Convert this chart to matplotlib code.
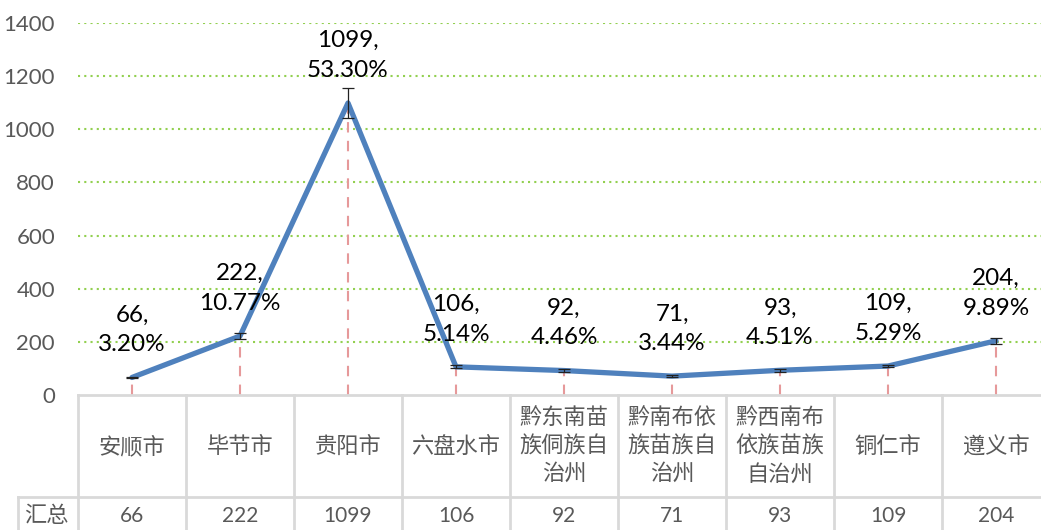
import matplotlib.pyplot as plt
from matplotlib.transforms import blended_transform_factory

plt.rcParams['font.family'] = ['Lato', 'Noto Sans CJK SC', 'DejaVu Sans']

# dati del grafico
regioni = ['安顺市', '毕节市', '贵阳市', '六盘水市', '黔东南苗\n族侗族自\n治州',
           '黔南布依\n族苗族自\n治州', '黔西南布\n依族苗族\n自治州', '铜仁市', '遵义市']
valori = [66, 222, 1099, 106, 92, 71, 93, 109, 204]
percentuali = ['3.20%', '10.77%', '53.30%', '5.14%', '4.46%', '3.44%', '4.51%', '5.29%', '9.89%']
riga_nome = '汇总'
y_ticks = [0, 200, 400, 600, 800, 1000, 1200, 1400]

W, H = 1041, 530
fig = plt.figure(figsize=(W / 100, H / 100), dpi=100)
col_w = 108
left_px = 78
ax = fig.add_axes([left_px / W, 135 / H, (W - left_px) / W, 372 / H])

x = list(range(len(valori)))
ax.set_xlim(-0.5, -0.5 + (W - left_px) / col_w)
ax.set_ylim(0, 1400)

# griglia
for t in y_ticks[1:]:
    ax.axhline(t, color='#92D050', lw=1.5, ls=(0, (1, 2)), zorder=1)

# linee di caduta
for xi, v in zip(x, valori):
    ax.plot([xi, xi], [0, v], color='#E6999A', lw=1.5, ls=(0, (5, 4)), zorder=2)

# serie principale
ax.plot(x, valori, color='#4F81BD', lw=3.8, zorder=3, solid_capstyle='round')
ax.errorbar(x, valori, yerr=[v * 0.05 for v in valori], fmt='none',
            ecolor='#222222', elinewidth=0.9, capsize=4, capthick=0.9, zorder=4)

# etichette dati
for xi, v, p in zip(x, valori, percentuali):
    ax.annotate(f'{v},\n{p}', (xi, v), xytext=(0, 16), textcoords='offset points',
                ha='center', va='bottom', fontsize=17.5, color='black',
                linespacing=1.5, zorder=5)

ax.set_yticks(y_ticks)
ax.set_yticklabels([str(t) for t in y_ticks], fontsize=16, color='#595959')
ax.tick_params(axis='y', length=0, pad=16.5)
ax.set_xticks([])
for s in ax.spines.values():
    s.set_visible(False)

# tabella dati
trans = blended_transform_factory(ax.transData, fig.transFigure)
grid_c = '#D9D9D9'
y_top = 1 - 395 / H
y_mid = 1 - 497 / H
fig.add_artist(plt.Line2D([left_px / W, 1], [y_top, y_top], color=grid_c, lw=2))
fig.add_artist(plt.Line2D([18 / W, 1], [y_mid, y_mid], color=grid_c, lw=2))
fig.add_artist(plt.Line2D([18 / W, 18 / W], [0, y_mid], color=grid_c, lw=2))
for i in range(len(valori) + 1):
    b = i - 0.5
    fig.add_artist(plt.Line2D([b, b], [0, y_top], transform=trans, color=grid_c, lw=2))

for xi, r, v in zip(x, regioni, valori):
    fig.text(xi, 1 - 446 / H, r, transform=trans, ha='center', va='center',
             fontsize=16, color='#595959', linespacing=1.4)
    fig.text(xi, 1 - 516 / H, str(v), transform=trans, ha='center', va='center',
             fontsize=15, color='#595959')
fig.text(46 / W, 1 - 516 / H, riga_nome, ha='center', va='center',
         fontsize=16, color='#595959')

fig.savefig('out.png', dpi=100)
